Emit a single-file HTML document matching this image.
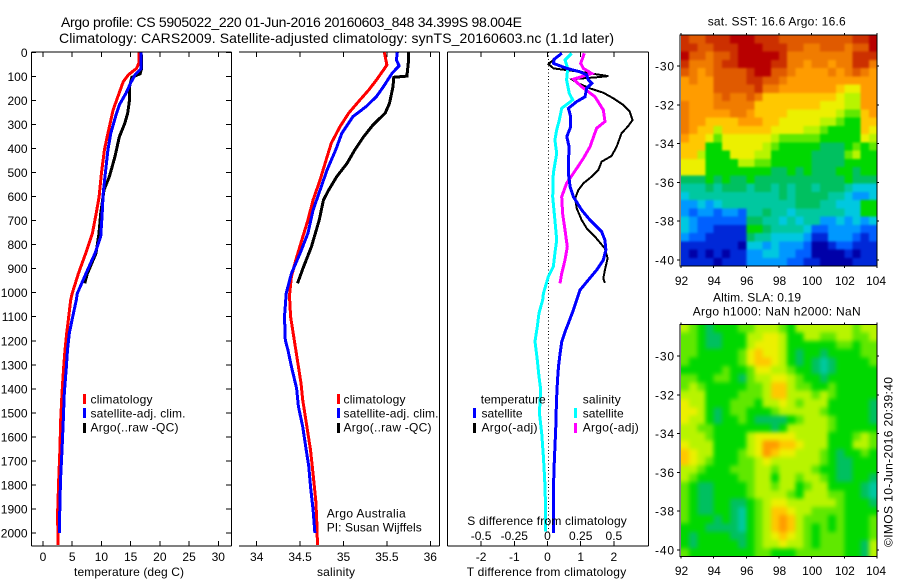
<!DOCTYPE html>
<html lang="en">
<head>
<meta charset="utf-8">
<title>Argo profile</title>
<style>
html,body{margin:0;padding:0;background:#fff;width:900px;height:580px;overflow:hidden}
svg{display:block}
text{font-family:"Liberation Sans",sans-serif;font-size:12px;fill:#000}
.t14{font-size:14px}
</style>
</head>
<body>
<svg id="chart" xmlns="http://www.w3.org/2000/svg" width="900" height="580" viewBox="0 0 900 580">
  <defs>
    <filter id="soft" x="-2%" y="-2%" width="104%" height="104%" color-interpolation-filters="sRGB">
      <feGaussianBlur stdDeviation="2"/>
      <feComponentTransfer><feFuncA type="discrete" tableValues="0 1 1 1 1 1 1 1"/></feComponentTransfer>
    </filter>
    <filter id="softer" x="-2%" y="-2%" width="104%" height="104%" color-interpolation-filters="sRGB">
      <feGaussianBlur stdDeviation="1"/>
      <feComponentTransfer><feFuncA type="discrete" tableValues="0 1 1 1 1 1 1 1"/></feComponentTransfer>
    </filter>
  </defs>
  <rect width="900" height="580" fill="#fff"/>
  <text class="t14" x="61" y="27" textLength="461" lengthAdjust="spacing">Argo profile: CS 5905022_220 01-Jun-2016 20160603_848 34.399S 98.004E</text>
  <text class="t14" x="59" y="43" textLength="555" lengthAdjust="spacing">Climatology: CARS2009. Satellite-adjusted climatology: synTS_20160603.nc (1.1d later)</text>
  <g id="plots"></g>
  <g id="maps"></g>

  <g>
    <rect x="83" y="394" width="3" height="10" fill="#f00"/>
    <rect x="83" y="408" width="3" height="10" fill="#00f"/>
    <rect x="83" y="423" width="3" height="10" fill="#000"/>
    <text x="90.5" y="403.5" textLength="62">climatology</text>
    <text x="90.5" y="417.5" textLength="95">satellite-adj. clim.</text>
    <text x="90.5" y="431.5" textLength="88">Argo(..raw -QC)</text>
  </g>
  <g>
    <rect x="337" y="394" width="3" height="10" fill="#f00"/>
    <rect x="337" y="408" width="3" height="10" fill="#00f"/>
    <rect x="337" y="423" width="3" height="10" fill="#000"/>
    <text x="343.5" y="403.5" textLength="62">climatology</text>
    <text x="343.5" y="417.5" textLength="95">satellite-adj. clim.</text>
    <text x="343.5" y="431.5" textLength="88">Argo(..raw -QC)</text>
  </g>
  <text x="326.7" y="517.5" textLength="79">Argo Australia</text>
  <text x="326.7" y="531.5" textLength="95">PI: Susan Wijffels</text>

  <g>
    <text x="480.7" y="403.5" textLength="65">temperature</text>
    <rect x="473" y="408" width="3" height="10" fill="#00f"/>
    <rect x="473" y="423" width="3" height="10" fill="#000"/>
    <text x="481.5" y="417.5" textLength="41">satellite</text>
    <text x="481.5" y="431.5" textLength="56">Argo(-adj)</text>
    <text x="582.7" y="403.5" textLength="38">salinity</text>
    <rect x="574" y="408" width="3" height="10" fill="#0ff"/>
    <rect x="574" y="423" width="3" height="10" fill="#f0f"/>
    <text x="582.7" y="417.5" textLength="41">satellite</text>
    <text x="582.7" y="431.5" textLength="56">Argo(-adj)</text>
  </g>

  <text x="74" y="576" textLength="110">temperature (deg C)</text>
  <text x="317" y="576" textLength="38">salinity</text>
  <text x="466.7" y="576" textLength="159.5">T difference from climatology</text>
  <text x="467.3" y="525" textLength="159.5">S difference from climatology</text>

  <text x="707.7" y="25.5" textLength="138">sat. SST: 16.6 Argo: 16.6</text>
  <text x="713" y="301.5" textLength="88">Altim. SLA: 0.19</text>
  <text x="692.7" y="315.5" textLength="168">Argo h1000: NaN h2000: NaN</text>
  <text transform="translate(892.7,547) rotate(-90)" x="0" y="0" textLength="170">©IMOS 10-Jun-2016 20:39:40</text>
</svg>

<script>
// ---- axis tick labels ----
const depthTicks = [0,100,200,300,400,500,600,700,800,900,1000,1100,1200,1300,1400,1500,1600,1700,1800,1900,2000];
const tempTicks = [0,5,10,15,20,25,30];
const salTicks = [34,34.5,35,35.5,36];
const tDiffTicks = [-2,-1,0,1,2];
const sDiffTicks = [-0.5,-0.25,0,0.25,0.5];
const lonTicks = [92,94,96,98,100,102,104];
const latTicks = [-30,-32,-34,-36,-38,-40];

// ---- temperature profiles (deg C) ----
const tempClimDepth = [0,46,67,94,122,185,240,337,406,504,601,670,753,836,920,1003,1030,1100,1169,1238,1307,1418,1529,1654,1779,1917,2050];
const tempClim = [16.4,16.4,16.0,14.6,13.75,12.8,12.0,11.1,10.5,10.0,9.6,9.1,8.45,7.3,6.05,5.0,4.74,4.4,4.05,3.77,3.54,3.25,3.03,2.9,2.68,2.5,2.57];
const tempSatDepth = [0,67,94,128,170,219,261,337,406,504,587,684,767,836,920,1003,1030,1100,1169,1238,1307,1418,1529,1654,1779,1917,2000];
const tempSat = [16.8,16.8,15.75,15.0,14.2,13.06,12.5,11.6,11.1,10.66,10.3,10.1,9.87,8.9,7.36,5.87,5.7,5.08,4.5,4.2,4.0,3.65,3.48,3.25,3.0,2.85,2.8];
const tempArgoDepth = [0,67,90,104,143,198,253,295,352,435,518,573,670,753,836,920,961];
const tempArgo = [16.8,16.9,16.6,15.2,14.8,14.8,14.5,14.0,13.06,12.3,11.35,10.44,9.87,9.58,9.07,7.6,7.14];

// ---- salinity profiles ----
const salClimDepth = [0,53,74,115,157,198,253,309,378,448,531,614,698,781,864,934,1003,1030,1100,1169,1238,1307,1376,1446,1515,1584,1654,1723,1792,1861,1931,2050];
const salClim = [35.47,35.5,35.46,35.38,35.29,35.19,35.06,34.96,34.86,34.8,34.73,34.65,34.59,34.52,34.45,34.4,34.38,34.38,34.39,34.42,34.45,34.48,34.51,34.53,34.56,34.59,34.62,34.64,34.66,34.68,34.69,34.7];
const salSatDepth = [0,32,56,87,143,184,226,267,337,406,490,573,656,753,836,920,1003,1100,1197,1238,1307,1398,1473,1557,1654,1723,1806,1903,2000];
const salSat = [35.62,35.61,35.64,35.56,35.46,35.38,35.26,35.11,34.98,34.91,34.81,34.73,34.65,34.59,34.5,34.4,34.34,34.32,34.33,34.36,34.4,34.46,34.48,34.53,34.57,34.6,34.62,34.65,34.67];
const salArgoDepth = [0,32,99,104,143,212,253,302,352,406,462,518,573,614,698,809,892,961];
const salArgo = [35.75,35.75,35.73,35.58,35.57,35.53,35.48,35.34,35.23,35.13,35.04,34.92,34.83,34.77,34.72,34.63,34.54,34.47];

// ---- differences from climatology ----
const dTSatDepth = [4,29,46,67,81,94,115,129,150,185,205,233,268,309,351,393,434,504,559,601,656,698,746,781,822,864,906,947,989,1030,1072,1127,1162,1203,1252,1307,1363,1446,1557,1626,1723,1806,2000];
const dTSat = [0.43,0.2,0.18,0.58,0.98,1.18,1.23,1.33,1.18,1.13,0.88,0.63,0.7,0.7,0.58,0.65,0.64,0.63,0.68,0.78,1.03,1.28,1.63,1.73,1.76,1.68,1.48,1.23,0.98,0.88,0.78,0.63,0.53,0.43,0.38,0.33,0.3,0.27,0.25,0.23,0.2,0.18,0.18];
const dTArgoDepth = [25,49,67,81,99,104,112,126,150,168,191,219,247,282,307,337,393,431,455,490,517,545,573,608,649,698,732,767,816,857,906,941,959];
const dTArgo = [0.23,0.03,0.18,0.98,1.83,1.48,0.73,0.88,1.28,1.68,1.98,2.28,2.48,2.56,2.43,2.23,2.08,1.93,1.63,1.53,1.33,1.08,0.93,0.83,0.88,1.03,1.18,1.43,1.73,1.81,1.73,1.68,1.73];
const dSSatDepth = [4,32,67,115,171,198,233,282,323,365,420,504,601,698,781,836,892,934,1003,1030,1085,1141,1203,1280,1349,1404,1501,1585,1682,1779,1890,1994];
const dSSat = [0.182,0.132,0.152,0.144,0.164,0.19,0.107,0.089,0.069,0.056,0.069,0.044,0.039,0.056,0.069,0.056,0.044,0.006,-0.031,-0.036,-0.064,-0.077,-0.094,-0.077,-0.064,-0.051,-0.061,-0.044,-0.031,-0.021,-0.014,-0.016];
const dSArgoDepth = [4,46,67,88,112,143,185,240,288,316,393,441,483,545,601,670,739,809,864,920,961];
const dSArgo = [0.277,0.25,0.27,0.333,0.195,0.257,0.358,0.42,0.433,0.37,0.32,0.27,0.22,0.144,0.107,0.114,0.132,0.149,0.132,0.107,0.094];

// ---- map grids: colour-scale level of each cell, north to south, west to east ----
const sstLevels = [
[15,14,14,15,15,15,16,16,16,15,15,15,14,14,14,14,14,14,14,14,14,15,15,16],
[15,15,14,14,15,15,15,16,16,16,15,15,15,14,14,13,13,14,14,14,13,14,14,16],
[16,14,14,13,14,14,15,16,16,16,16,16,15,13,13,13,13,13,13,13,13,15,15,15],
[15,13,13,13,14,15,15,16,16,16,16,15,15,13,13,12,13,13,12,13,13,15,15,13],
[14,13,12,13,14,14,14,14,15,16,16,14,14,13,12,12,12,12,13,12,13,14,13,12],
[12,13,12,12,14,14,14,14,15,15,14,14,13,12,12,12,12,12,12,12,12,12,12,12],
[12,12,12,12,14,14,14,14,14,15,13,13,12,12,12,12,12,12,12,11,10,10,12,12],
[12,12,12,12,13,14,13,13,14,13,11,11,11,11,11,11,11,11,11,10,9,9,12,12],
[13,12,12,12,13,13,13,13,13,11,11,11,11,11,11,11,11,10,10,10,9,9,12,12],
[13,12,12,12,12,12,13,13,12,11,11,11,11,10,10,10,10,10,10,9,8,8,11,12],
[13,12,12,11,11,11,11,12,12,12,11,11,10,10,10,10,10,9,9,8,7,7,11,11],
[13,12,11,11,9,11,11,11,11,11,11,10,10,10,10,9,9,8,7,7,7,7,11,10],
[12,11,11,10,8,10,10,10,10,10,10,9,8,8,8,8,8,7,7,7,7,7,10,9],
[11,11,11,7,7,10,10,10,10,10,9,8,7,7,7,7,7,6,6,6,7,8,7,8],
[11,11,9,7,7,7,10,10,10,9,9,7,7,7,7,7,6,6,6,6,8,9,7,7],
[10,10,10,7,7,7,7,9,9,8,8,7,7,7,7,7,6,6,6,6,7,7,7,7],
[10,10,10,7,7,7,7,7,7,7,7,6,6,7,6,7,6,6,6,7,7,6,7,7],
[6,6,6,7,6,7,6,6,7,6,6,6,6,6,6,6,6,6,6,6,7,6,6,6],
[5,5,5,6,5,6,6,6,5,6,6,5,6,5,6,6,5,6,6,6,5,4,4,4],
[4,5,5,5,5,5,5,5,5,5,5,5,6,5,6,6,6,6,5,5,4,3,3,4],
[3,3,4,3,4,5,5,5,5,5,5,5,5,5,6,6,6,5,5,4,4,4,7,7],
[3,2,3,3,2,3,3,2,5,5,6,5,5,4,5,5,5,5,5,5,4,4,7,7],
[4,3,2,2,2,2,2,2,6,6,5,5,4,5,4,5,5,3,3,4,3,4,3,4],
[4,3,2,2,1,1,1,1,7,7,6,5,5,5,5,4,2,2,3,3,3,3,2,2],
[3,2,2,1,1,1,1,1,6,5,5,4,4,4,4,3,1,1,3,3,3,2,1,2],
[1,1,1,1,1,1,1,0,4,4,3,4,3,3,3,2,0,0,1,2,2,1,1,1],
[1,0,1,0,1,0,1,1,3,3,4,4,3,3,2,2,0,0,0,0,1,0,1,1],
[1,1,1,1,0,1,1,1,3,3,3,3,3,2,2,1,1,0,0,0,0,1,1,1]
];
const slaLevels = [
[9,8,7,6,7,7,7,8,8,9,9,9,8,7,9,9,9,9,9,9,9,8,9,9],
[8,8,7,6,6,7,7,7,9,9,10,10,9,7,7,9,9,8,8,9,9,8,8,9],
[8,8,7,6,6,7,7,7,9,10,10,10,9,7,7,7,7,7,7,8,8,7,8,8],
[8,8,7,7,7,7,7,8,10,11,10,10,9,7,6,7,7,6,7,7,7,7,8,8],
[8,7,7,7,7,7,7,8,10,11,11,10,9,7,6,7,6,5,6,7,7,7,7,8],
[7,7,7,7,7,8,7,7,8,10,10,9,9,8,7,7,6,5,6,7,7,7,7,7],
[8,8,7,7,8,8,7,6,8,9,9,10,10,9,8,7,7,6,7,7,7,7,7,7],
[8,9,8,7,7,7,7,7,8,8,9,11,11,9,8,8,7,7,8,7,7,7,7,7],
[9,9,9,7,7,7,7,8,8,8,9,11,11,9,9,9,8,9,8,7,7,7,7,7],
[10,9,9,7,7,7,8,8,8,7,9,9,10,9,8,9,9,9,7,7,7,7,7,6],
[10,10,9,7,6,7,8,8,7,7,7,8,9,9,9,9,9,8,7,7,7,7,7,6],
[10,9,9,7,6,7,7,8,7,6,6,6,6,7,8,9,9,9,8,7,7,7,7,6],
[9,9,8,8,7,7,7,7,7,7,7,6,7,9,9,9,9,9,8,7,7,7,7,7],
[9,9,9,8,7,7,7,7,9,10,10,10,10,10,9,9,9,9,7,7,7,8,9,8],
[10,9,9,9,7,7,7,7,9,10,12,12,11,11,10,9,9,9,7,7,7,9,9,8],
[11,10,9,9,7,7,7,8,9,10,12,11,10,10,9,9,9,8,7,6,7,7,8,7],
[11,10,9,8,7,7,7,8,8,9,10,9,9,9,9,9,9,8,7,6,6,7,7,7],
[9,9,8,7,7,7,8,8,8,9,9,8,9,9,9,9,8,7,7,6,6,7,7,7],
[9,8,7,7,7,7,7,8,8,9,9,7,9,9,8,9,9,8,7,6,6,7,7,6],
[8,7,6,6,7,7,7,7,8,9,9,8,9,9,7,8,9,9,7,7,7,7,6,5],
[8,7,6,6,7,7,7,7,8,9,9,9,9,8,7,9,9,9,8,8,7,7,6,5],
[8,7,6,6,7,7,6,6,7,8,9,10,10,9,9,9,9,9,9,8,7,7,7,6],
[8,7,6,6,7,7,6,5,7,8,9,11,11,10,9,9,8,8,8,8,7,7,7,7],
[8,7,7,7,6,7,6,5,7,8,9,11,12,11,9,8,8,8,7,8,7,7,7,8],
[7,7,7,6,6,6,6,5,7,8,9,11,12,11,9,8,7,8,7,8,7,7,7,8],
[7,6,7,7,7,7,6,6,7,8,9,10,11,10,9,8,7,8,8,8,7,7,7,8],
[7,6,7,7,7,7,7,6,7,8,9,9,10,9,9,8,7,8,8,8,7,7,6,9],
[8,7,7,7,7,7,7,7,7,8,8,7,7,7,8,8,8,8,8,8,7,7,6,9]
];
const levelColors = ['#0000a8','#0028d8','#0060ff','#0098ff','#00c8e0','#00c8a0','#00c060','#00d800','#60e800','#b8f400','#ecf000','#ffc800','#ff9c00','#f07c00','#e05a00','#cc3000','#b80000'];

// ---- axis functions ----
const NS = 'http://www.w3.org/2000/svg';
const yDepth = d => 52.3 + d * 0.2404;
const xTemp = t => 43 + t * 5.843;
const xSal = s => 256.7 + (s - 34) * 86.8;
const xDT = t => 547.5 + t * 33.2;
const xDS = s => 547.5 + s * 132.8;
const xLon = lon => 681 + (lon - 92) * 16.333;
const ySst = lat => 66 + (-30 - lat) * 19.4;
const ySla = lat => 356 + (-30 - lat) * 19.4;

function mk(parent, tag, name, attrs) {
  const el = document.createElementNS(NS, tag);
  
  
  for (const k in attrs) el.setAttribute(k, attrs[k]);
  parent.appendChild(el);
  return el;
}
function seg(parent, name, x1, y1, x2, y2) {
  return mk(parent, 'line', name, {x1, y1, x2, y2, stroke: '#000', 'stroke-width': 1, 'shape-rendering': 'crispEdges'});
}
function label(parent, name, x, y, str, anchor) {
  const t = mk(parent, 'text', name, {x, y, 'text-anchor': anchor || 'middle'});
  t.textContent = str;
  return t;
}
function profile(parent, name, depths, values, xFn, color, width) {
  const pts = depths.map((d, i) => xFn(values[i]).toFixed(1) + ',' + yDepth(d).toFixed(1)).join(' ');
  return mk(parent, 'polyline', name, {points: pts, fill: 'none', stroke: color, 'stroke-width': width, 'shape-rendering': 'crispEdges', 'stroke-linejoin': 'miter'});
}

const TOP = 52, BOT = 546;
const plots = document.getElementById('plots');

// temperature panel
const p1 = mk(plots, 'g', 'temperature-panel', {});
seg(p1, 'panel-top-border', 31.5, TOP, 231.5, TOP);
seg(p1, 'panel-bottom-border', 31.5, BOT, 231.5, BOT);
seg(p1, 'panel-left-border', 31.5, TOP, 31.5, BOT);
seg(p1, 'panel-right-border', 231.5, TOP, 231.5, BOT);
depthTicks.forEach(d => {
  const y = yDepth(d);
  seg(p1, 'y-tick-left', 31.5, y, 36, y);
  seg(p1, 'y-tick-right', 226, y, 231.5, y);
  label(p1, 'y-tick-label', 27.5, y + 4.5, String(d), 'end');
});
tempTicks.forEach(t => {
  const x = xTemp(t);
  seg(p1, 'x-tick-top', x, TOP, x, TOP + 5);
  seg(p1, 'x-tick-bottom', x, BOT - 5, x, BOT);
  label(p1, 'x-tick-label', x, 561, String(t));
});
profile(p1, 'temp-argo-line', tempArgoDepth, tempArgo, xTemp, '#000', 3);
profile(p1, 'temp-climatology-line', tempClimDepth, tempClim, xTemp, '#f00', 3);
profile(p1, 'temp-satellite-line', tempSatDepth, tempSat, xTemp, '#00f', 3);

// salinity panel
const p2 = mk(plots, 'g', 'salinity-panel', {});
seg(p2, 'panel-top-border', 239, TOP, 439.5, TOP);
seg(p2, 'panel-bottom-border', 239, BOT, 439.5, BOT);
seg(p2, 'panel-right-border', 439.5, TOP, 439.5, BOT);
salTicks.forEach(s => {
  const x = xSal(s);
  seg(p2, 'x-tick-top', x, TOP, x, TOP + 5);
  seg(p2, 'x-tick-bottom', x, BOT - 5, x, BOT);
  label(p2, 'x-tick-label', x, 561, String(s));
});
profile(p2, 'sal-argo-line', salArgoDepth, salArgo, xSal, '#000', 3);
profile(p2, 'sal-climatology-line', salClimDepth, salClim, xSal, '#f00', 3);
profile(p2, 'sal-satellite-line', salSatDepth, salSat, xSal, '#00f', 3);

// difference panel
const p3 = mk(plots, 'g', 'difference-panel', {});
seg(p3, 'panel-top-border', 447.5, TOP, 648.5, TOP);
seg(p3, 'panel-bottom-border', 447.5, BOT, 648.5, BOT);
seg(p3, 'panel-left-border', 447.5, TOP, 447.5, BOT);
seg(p3, 'panel-right-border', 648.5, TOP, 648.5, BOT);
tDiffTicks.forEach(t => {
  const x = xDT(t);
  seg(p3, 'x-tick-top', x, TOP, x, TOP + 5);
  seg(p3, 'x-tick-bottom', x, BOT - 5, x, BOT);
  label(p3, 'x-tick-label-t', x, 561, String(t));
});
sDiffTicks.forEach(s => {
  label(p3, 'x-tick-label-s', xDS(s), 540, String(s));
});
mk(p3, 'line', 'zero-difference-line', {x1: 548.5, y1: TOP, x2: 548.5, y2: yDepth(2000), stroke: '#000', 'stroke-width': 1, 'stroke-dasharray': '1 2.4', 'shape-rendering': 'crispEdges'});
profile(p3, 'delta-t-argo-line', dTArgoDepth, dTArgo, xDT, '#000', 2);
profile(p3, 'delta-s-satellite-line', dSSatDepth, dSSat, xDS, '#0ff', 3);
profile(p3, 'delta-s-argo-line', dSArgoDepth, dSArgo, xDS, '#f0f', 3);
profile(p3, 'delta-t-satellite-line', dTSatDepth, dTSat, xDT, '#00f', 3);

// maps
const maps = document.getElementById('maps');
function drawMap(name, levels, yFn, top, bottom, filterId, labelY) {
  const g = mk(maps, 'g', name, {});
  const left = xLon(92), right = xLon(104);
  const cpId = name + '-clip';
  const cp = mk(g, 'clipPath', 'map-clip', {id: cpId});
  mk(cp, 'rect', 'map-clip-rect', {x: left, y: top, width: right - left, height: bottom - top});
  const holder = mk(g, 'g', 'map-image-clip', {'clip-path': 'url(#' + cpId + ')'});
  const cells = mk(holder, 'g', 'map-cells', {filter: 'url(#' + filterId + ')'});
  const rows = levels.length, cols = levels[0].length;
  const cw = (right - left) / cols, ch = (bottom - top) / rows;
  levels.forEach((row, j) => {
    row.forEach((v, i) => {
      mk(cells, 'rect', 'map-cell', {
        x: (left + i * cw).toFixed(2), y: (top + j * ch).toFixed(2),
        width: (cw + 0.6).toFixed(2), height: (ch + 0.6).toFixed(2),
        fill: levelColors[v], 'shape-rendering': 'crispEdges'
      });
    });
  });
  mk(g, 'rect', 'map-frame', {x: left - 1, y: top, width: right - left + 1, height: bottom - top, fill: 'none', stroke: '#000', 'stroke-width': 1, 'shape-rendering': 'crispEdges'});
  lonTicks.forEach(lon => {
    const x = xLon(lon);
    seg(g, 'map-x-tick-top', x, top - 2, x, top);
    seg(g, 'map-x-tick-bottom', x, bottom, x, bottom + 2);
    label(g, 'map-x-tick-label', lon === 104 ? x - 1 : x + 0.5, labelY, String(lon));
  });
  latTicks.forEach(lat => {
    const y = yFn(lat);
    seg(g, 'map-y-tick-left', left - 4, y, left - 1, y);
    seg(g, 'map-y-tick-right', right, y, right + 2, y);
    const t = label(g, 'map-y-tick-label', 655, y + 4.5, String(lat), 'start');
    t.setAttribute('textLength', 19);
  });
}
drawMap('sst-map', sstLevels, ySst, 35, 266, 'softer', 285);
drawMap('sla-map', slaLevels, ySla, 324.3, 556.7, 'soft', 575);
</script>
</body>
</html>
